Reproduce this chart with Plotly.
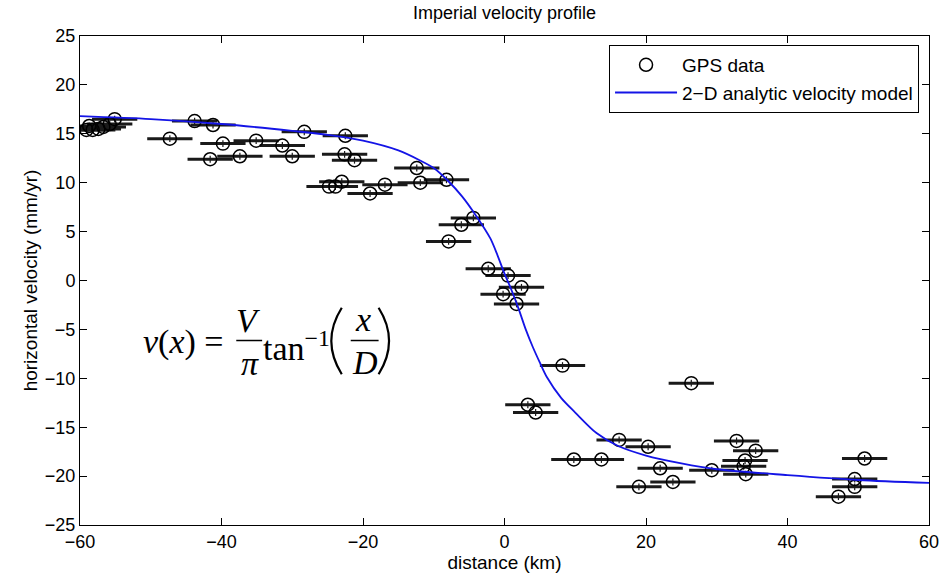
import plotly.graph_objects as go

# ---------------- data ----------------
gps_x = [-59.1, -58.7, -58.2, -57.4, -56.7, -55.8, -55.1,
         -47.3, -43.8, -41.2, -39.8, -41.6, -37.4, -35.1, -31.4, -30.0, -28.3, -22.5, -22.6, -21.2,
         -12.4, -8.2, -11.9, -16.9, -19.0, -24.8, -23.9, -23.0,
         -4.4, -6.1, -7.9, -2.3, 0.5, 2.4, -0.2, 1.7,
         8.2, 3.3, 4.4, 9.8, 13.7, 16.2, 20.3, 22.0, 19.0, 23.8, 26.4,
         29.3, 32.8, 35.5, 34.0, 33.8, 34.1, 50.9, 49.5, 49.5, 47.2]
gps_y = [15.4, 15.8, 15.4, 15.5, 15.7, 16.0, 16.5,
         14.5, 16.3, 15.9, 14.0, 12.4, 12.7, 14.3, 13.8, 12.7, 15.2, 14.8, 12.9, 12.3,
         11.5, 10.3, 10.0, 9.8, 8.9, 9.6, 9.6, 10.1,
         6.4, 5.7, 4.0, 1.2, 0.5, -0.7, -1.4, -2.4,
         -8.7, -12.7, -13.5, -18.3, -18.3, -16.3, -17.0, -19.2, -21.1, -20.6, -10.5,
         -19.4, -16.4, -17.4, -18.4, -19.0, -19.8, -18.2, -20.3, -21.1, -22.1]
gps_xerr = [3.2] * len(gps_x)
gps_yerr = [0.35] * len(gps_x)

model_x = [-60, -50, -40, -30, -25, -20, -15, -12, -10, -8, -6, -4, -2, -1, 0,
           1, 2, 3, 4, 5, 6, 8, 10, 13, 16, 20, 25, 30, 40, 50, 60]
model_y = [16.8, 16.5, 16.0, 15.3, 14.9, 14.3, 13.3, 12.3, 11.5, 10.2, 8.6, 6.6, 4.3, 2.6, 0.7,
           -1.0, -2.9, -5.0, -6.8, -8.4, -9.9, -12.0, -13.5, -15.6, -16.9, -17.9, -18.7, -19.3,
           -19.9, -20.4, -20.7]

x_ticks = [-60, -40, -20, 0, 20, 40, 60]
y_ticks = [-25, -20, -15, -10, -5, 0, 5, 10, 15, 20, 25]

title_text = "Imperial velocity profile"
x_title = "distance (km)"
y_title = "horizontal velocity (mm/yr)"
legend_names = ["GPS data", "2\u2212D analytic velocity model"]

# ---------------- layout geometry (pixels) ----------------
W, H = 951, 579
L, R, T, B = 80, 933, 36, 529


def px(xp):
    return (xp - L) / (R - L)


def py(yp):
    return (B - yp) / (B - T)


FONT = "Liberation Sans, Arial, Helvetica, sans-serif"
SERIF = "Liberation Serif, Times New Roman, serif"

fig = go.Figure()

fig.add_trace(go.Scatter(
    x=gps_x, y=gps_y, mode="markers", name=legend_names[0],
    marker=dict(symbol="circle-open", size=13, color="black", line=dict(width=1.5, color="black")),
    error_x=dict(type="data", array=gps_xerr, visible=True, thickness=3, width=0, color="#1a1a1a"),
    error_y=dict(type="data", array=gps_yerr, visible=True, thickness=1.2, width=0, color="#1a1a1a"),
))

fig.add_trace(go.Scatter(
    x=model_x, y=model_y, mode="lines", name=legend_names[1],
    line=dict(color="#1414e6", width=1.8, shape="spline", smoothing=0.8),
))

axis_common = dict(
    showline=True, linecolor="black", linewidth=1, mirror="ticks",
    ticks="inside", ticklen=7, tickwidth=1, tickcolor="black",
    showgrid=False, zeroline=False,
    tickfont=dict(family=FONT, size=18, color="black"),
)

fig.update_xaxes(range=[-60, 60], tickvals=x_ticks,
                 ticktext=[str(v).replace("-", "\u2212") for v in x_ticks],
                 title=dict(text=x_title, font=dict(family=FONT, size=19, color="black"), standoff=2),
                 **axis_common)
fig.update_yaxes(range=[-25, 25], tickvals=y_ticks,
                 ticktext=[str(v).replace("-", "\u2212") for v in y_ticks],
                 title=dict(text=y_title, font=dict(family=FONT, size=19, color="black"), standoff=2),
                 **axis_common)

# formula annotation built from pieces
ann = []
shapes = []


def txt(s, xp, yp, size, xanchor="center"):
    ann.append(dict(text=s, x=px(xp), y=py(yp), xref="paper", yref="paper",
                    xanchor=xanchor, yanchor="middle", showarrow=False,
                    font=dict(family=SERIF, size=size, color="black")))


def hline(x0, x1, yp):
    shapes.append(dict(type="line", xref="paper", yref="paper",
                       x0=px(x0), x1=px(x1), y0=py(yp), y1=py(yp),
                       line=dict(color="black", width=1.5)))


def paren(xe, xm, y0, y1):
    ym = (y0 + y1) / 2
    path = "M %f,%f Q %f,%f %f,%f" % (px(xe), py(y0), px(xm), py(ym), px(xe), py(y1))
    shapes.append(dict(type="path", xref="paper", yref="paper", path=path,
                       line=dict(color="black", width=2.2)))


FS = 34
txt("<i>v</i>(<i>x</i>) =", 141, 345, FS, xanchor="left")
txt("<i>V</i>", 249, 323, FS)
hline(237, 263, 343)
txt("<i>\u03c0</i>", 251, 366, FS)
txt("tan<sup>\u22121</sup>", 262, 349, FS, xanchor="left")
paren(343, 322, 310, 377)
txt("<i>x</i>", 364, 322, FS)
hline(352, 380, 343)
txt("<i>D</i>", 366, 365, FS)
paren(380, 401, 310, 377)

fig.update_layout(
    width=W, height=H,
    margin=dict(l=L, r=W - R, t=T, b=H - B),
    paper_bgcolor="white", plot_bgcolor="white",
    title=dict(text=title_text, xref="paper", x=0.5, xanchor="center",
               yref="container", y=1 - 13 / H, yanchor="middle",
               font=dict(family=FONT, size=18, color="black")),
    showlegend=True,
    legend=dict(x=px(923), y=py(45), xanchor="right", yanchor="top",
                bgcolor="white", bordercolor="black", borderwidth=1,
                font=dict(family=FONT, size=19, color="black"),
                tracegroupgap=0, itemwidth=62),
    annotations=ann, shapes=shapes,
)

fig.write_html("out.html")
